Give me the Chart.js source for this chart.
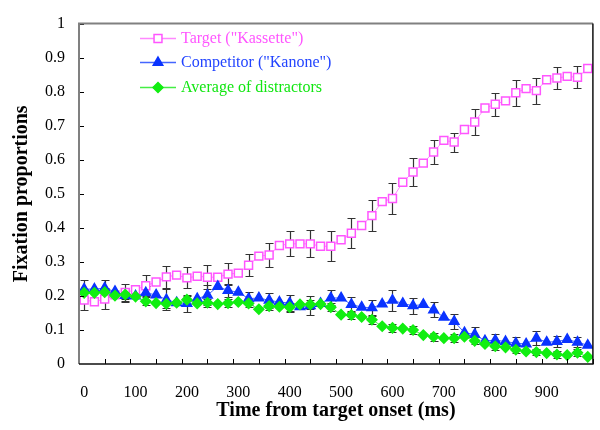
<!DOCTYPE html>
<html>
<head>
<meta charset="utf-8">
<script src="https://cdn.jsdelivr.net/npm/chart.js@4/dist/chart.umd.min.js"></script>
<style>
  html, body { margin: 0; padding: 0; background: #fff; }
</style>
</head>
<body>
<canvas id="chart" width="600" height="430"></canvas>
<script>
// Время (мс) — по точке каждые 20 мс
const timeMs = [0, 20, 40, 60, 80, 100, 120, 140, 160, 180,
  200, 220, 240, 260, 280, 300, 320, 340, 360, 380,
  400, 420, 440, 460, 480, 500, 520, 540, 560, 580,
  600, 620, 640, 660, 680, 700, 720, 740, 760, 780,
  800, 820, 840, 860, 880, 900, 920, 940, 960, 980];

const xTickLabels = [0, 100, 200, 300, 400, 500, 600, 700, 800, 900];
const xTickMarks = [-10, 40, 90, 140, 190, 240, 290, 340, 390, 440, 490,
  540, 590, 640, 690, 740, 790, 840, 890, 940, 990];
const yTickValues = [0.1, 0.2, 0.3, 0.4, 0.5, 0.6, 0.7, 0.8, 0.9, 1];

// Target ("Kassette")
const target = [0.188, 0.183, 0.191, 0.203, 0.21, 0.218, 0.23, 0.241, 0.256, 0.261,
  0.253, 0.258, 0.255, 0.255, 0.264, 0.267, 0.29, 0.317, 0.32, 0.348,
  0.353, 0.353, 0.353, 0.346, 0.346, 0.365, 0.384, 0.407, 0.436, 0.477,
  0.486, 0.534, 0.564, 0.59, 0.623, 0.657, 0.652, 0.689, 0.711, 0.752,
  0.763, 0.773, 0.797, 0.809, 0.803, 0.835, 0.84, 0.845, 0.842, 0.868];
const targetErr = [0.03, null, 0.03, null, 0.025, null, 0.03, null, 0.032, null,
  0.031, null, 0.036, null, 0.033, null, 0.032, null, 0.034, null,
  0.037, null, 0.04, null, 0.044, null, 0.044, null, 0.045, null,
  0.046, null, 0.042, null, 0.035, null, 0.028, null, 0.038, null,
  0.033, null, 0.038, null, 0.038, null, 0.032, null, 0.032, null];

// Competitor ("Kanone")
const competitor = [0.22, 0.22, 0.223, 0.213, 0.201, 0.2, 0.209, 0.203, 0.189, 0.18,
  0.178, 0.192, 0.202, 0.228, 0.216, 0.211, 0.192, 0.194, 0.187, 0.182,
  0.179, 0.168, 0.171, 0.178, 0.194, 0.194, 0.175, 0.167, 0.165, 0.176,
  0.187, 0.178, 0.171, 0.175, 0.159, 0.137, 0.125, 0.092, 0.087, 0.068,
  0.07, 0.066, 0.061, 0.059, 0.076, 0.064, 0.066, 0.072, 0.064, 0.055];
const competitorErr = [0.027, null, 0.025, null, 0.02, null, 0.02, null, 0.03, null,
  0.025, null, 0.03, null, 0.02, null, 0.02, null, 0.022, null,
  0.025, null, 0.028, null, 0.022, null, 0.022, null, 0.022, null,
  0.031, null, 0.024, null, 0.022, null, 0.021, null, 0.021, null,
  0.017, null, 0.017, null, 0.021, null, 0.015, null, 0.014, null];

// Average of distractors
const distractors = [0.209, 0.209, 0.211, 0.201, 0.204, 0.198, 0.184, 0.179, 0.177, 0.18,
  0.189, 0.178, 0.18, 0.176, 0.179, 0.182, 0.178, 0.161, 0.17, 0.168,
  0.167, 0.175, 0.175, 0.176, 0.167, 0.145, 0.144, 0.138, 0.13, 0.111,
  0.106, 0.104, 0.1, 0.085, 0.08, 0.076, 0.076, 0.08, 0.068, 0.059,
  0.052, 0.049, 0.042, 0.037, 0.035, 0.032, 0.028, 0.026, 0.033, 0.021];
const distractorsErr = [0.012, null, 0.012, null, 0.012, null, 0.012, null, 0.012, null,
  0.012, null, 0.012, null, 0.012, null, 0.012, null, 0.012, null,
  0.012, null, 0.012, null, 0.012, null, 0.012, null, 0.012, null,
  0.012, null, 0.012, null, 0.012, null, 0.012, null, 0.01, null,
  0.01, null, 0.01, null, 0.01, null, 0.01, null, 0.01, null];

const serif = '"Liberation Serif", "DejaVu Serif", serif';

const seriesList = [
  { label: 'Target ("Kassette")', values: target, err: targetErr,
    line: '#ff88ff', point: '#ff55ff', fill: '#ffffff', style: 'rect', radius: 5.6, text: '#ff55ff', order: 3 },
  { label: 'Competitor ("Kanone")', values: competitor, err: competitorErr,
    line: '#4466ff', point: '#0a33ff', fill: '#0a33ff', style: 'triangle', radius: 5.5, text: '#2244ff', order: 2 },
  { label: 'Average of distractors', values: distractors, err: distractorsErr,
    line: '#44ee44', point: '#11ee11', fill: '#11ee11', style: 'rectRot', radius: 5, text: '#11e611', order: 1 }
];

// Планки погрешностей (под маркерами)
const errorBars = {
  id: 'errorBars',
  beforeDatasetsDraw(chart) {
    const { ctx, scales: { x, y } } = chart;
    ctx.save();
    ctx.strokeStyle = '#333';
    ctx.lineWidth = 1.2;
    seriesList.forEach(s => {
      s.values.forEach((v, i) => {
        const e = s.err[i];
        if (e == null) return;
        const px = Math.round(x.getPixelForValue(timeMs[i])) + 0.5;
        const top = Math.round(y.getPixelForValue(v + e)) + 0.5;
        const bot = Math.round(y.getPixelForValue(v - e)) + 0.5;
        ctx.beginPath();
        ctx.moveTo(px, top); ctx.lineTo(px, bot);
        ctx.moveTo(px - 4, top); ctx.lineTo(px + 4, top);
        ctx.moveTo(px - 4, bot); ctx.lineTo(px + 4, bot);
        ctx.stroke();
      });
    });
    ctx.restore();
  }
};

// Рамка и внутренние засечки
const frameTicks = {
  id: 'frameTicks',
  afterDatasetsDraw(chart) {
    const { ctx, chartArea: a, scales: { x, y } } = chart;
    ctx.save();
    ctx.strokeStyle = '#000';
    ctx.lineWidth = 1;
    ctx.beginPath();
    yTickValues.forEach(v => {
      const py = Math.round(y.getPixelForValue(v)) + 0.5;
      ctx.moveTo(a.left, py); ctx.lineTo(a.left + 5, py);
    });
    xTickMarks.forEach(v => {
      const px = Math.round(x.getPixelForValue(v)) + 0.5;
      ctx.moveTo(px, a.bottom); ctx.lineTo(px, a.bottom - 5);
    });
    ctx.stroke();

    ctx.lineWidth = 2;
    ctx.strokeStyle = '#808080';
    ctx.beginPath();
    ctx.moveTo(a.left, a.bottom); ctx.lineTo(a.left, a.top); ctx.lineTo(a.right, a.top);
    ctx.stroke();
    ctx.strokeStyle = '#111';
    ctx.lineWidth = 1.5;
    ctx.beginPath();
    ctx.moveTo(a.left, a.bottom); ctx.lineTo(a.right, a.bottom); ctx.lineTo(a.right, a.top);
    ctx.stroke();
    ctx.restore();
  }
};

// Легенда внутри области графика
const innerLegend = {
  id: 'innerLegend',
  afterDraw(chart) {
    const { ctx } = chart;
    const rows = [38, 62, 87];
    ctx.save();
    seriesList.forEach((s, k) => {
      const yy = rows[k];
      ctx.strokeStyle = s.line;
      ctx.lineWidth = 1.5;
      ctx.beginPath();
      ctx.moveTo(140, yy + 0.5); ctx.lineTo(176, yy + 0.5);
      ctx.stroke();
      ctx.fillStyle = s.fill;
      ctx.strokeStyle = s.point;
      ctx.lineWidth = 1.5;
      Chart.helpers.drawPoint(ctx, { pointStyle: s.style, radius: s.radius, rotation: 0, borderWidth: 1.5 }, 158, yy + 0.5);
      ctx.fillStyle = s.text;
      ctx.font = '16px ' + serif;
      ctx.textBaseline = 'middle';
      ctx.textAlign = 'left';
      ctx.fillText(s.label, 181, yy + 1);
    });
    ctx.restore();
  }
};

const ctx = document.getElementById('chart').getContext('2d');
const chart = new Chart(ctx, {
  type: 'line',
  data: {
    datasets: seriesList.map(s => ({
      label: s.label,
      data: s.values.map((v, i) => ({ x: timeMs[i], y: v })),
      borderColor: s.line,
      borderWidth: 1,
      pointStyle: s.style,
      pointRadius: s.radius,
      pointBackgroundColor: s.fill,
      pointBorderColor: s.point,
      pointBorderWidth: 1.5,
      tension: 0,
      order: s.order
    }))
  },
  options: {
    responsive: false,
    animation: false,
    layout: { padding: { top: 13, right: 1, left: 0, bottom: 0 } },
    plugins: { legend: { display: false }, tooltip: { enabled: false } },
    scales: {
      x: {
        type: 'linear',
        min: -10,
        max: 990,
        grid: { display: false, drawTicks: false },
        border: { display: false },
        afterBuildTicks: scale => { scale.ticks = xTickLabels.map(v => ({ value: v })); },
        afterFit: scale => { scale.height = 66; },
        ticks: {
          padding: 19,
          color: '#000',
          maxRotation: 0,
          autoSkip: false,
          font: { family: serif, size: 16 }
        },
        title: {
          display: true,
          text: 'Time from target onset (ms)',
          color: '#000',
          padding: { top: 0, bottom: 7 },
          font: { family: serif, size: 20, weight: 'bold' }
        }
      },
      y: {
        min: 0,
        max: 1,
        grid: { display: false, drawTicks: false },
        border: { display: false },
        afterFit: scale => { scale.width = 79; },
        ticks: {
          stepSize: 0.1,
          padding: 14,
          color: '#000',
          callback: v => String(Math.round(v * 10) / 10),
          font: { family: serif, size: 16 }
        },
        title: {
          display: true,
          text: 'Fixation proportions',
          color: '#000',
          padding: { top: 10, bottom: 0 },
          font: { family: serif, size: 20, weight: 'bold' }
        }
      }
    }
  },
  plugins: [errorBars, frameTicks, innerLegend]
});
</script>
</body>
</html>
